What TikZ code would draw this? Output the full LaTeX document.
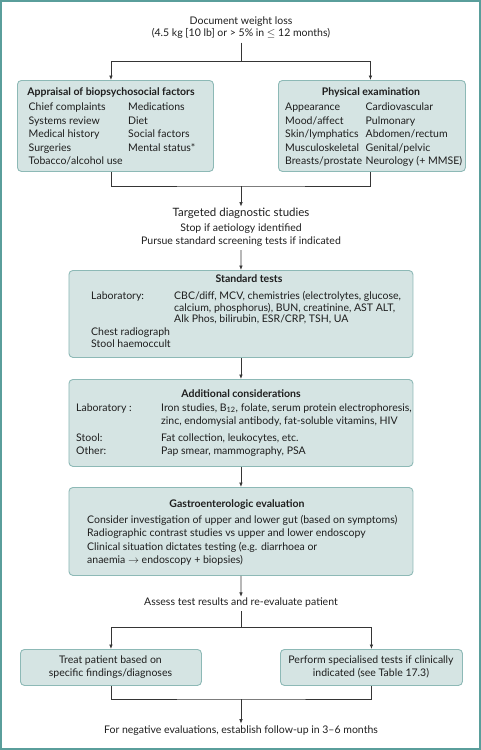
\documentclass[tikz,border=0pt]{standalone}
\usepackage{fontspec}
\setmainfont{Lato}
\usetikzlibrary{arrows.meta,calc}
\definecolor{boxfill}{HTML}{D5E4E3}
\definecolor{boxline}{HTML}{8DB9B6}
\definecolor{frame}{HTML}{5A9E9B}
\definecolor{ink}{HTML}{1E1E1E}
\newcommand\fsn{\fontsize{10.5}{12.5}\selectfont}
\newcommand\fsb{\fontsize{11.5}{13}\selectfont}
\begin{document}
\begin{tikzpicture}[x=1pt,y=-1pt,
  box/.style={draw=boxline,fill=boxfill,rounded corners=4pt,line width=0.9pt,inner sep=0,anchor=north west},
  tl/.style={anchor=base west,inner sep=0,text=ink,font=\fsn},
  tc/.style={anchor=base,inner sep=0,text=ink,font=\fsn},
  th/.style={anchor=base,inner sep=0,text=ink,font=\fsn\bfseries},
  free/.style={inner sep=0,text=ink,font=\fsn,align=center},
  conn/.style={draw=ink!90,line width=0.7pt},
  arr/.style={conn,-{Latex[length=4.5pt,width=3.6pt]}}]
\useasboundingbox (0,0) rectangle (481,750);
\draw[frame,line width=2pt] (1,1) rectangle (480,749);

% title
\node[free,anchor=north,outer sep=4pt] (title) at (241,12.5) {Document weight loss\\(4.5 kg [10 lb] or > 5\% in $\le$ 12 months)};
\coordinate (j1) at (241,61);

% top boxes
\node[box,minimum width=196pt,minimum height=91pt] (lbox) at (17,80) {};
\node[box,minimum width=187pt,minimum height=91pt] (rbox) at (278,80) {};
\node[th] (lboxh) at (111,95) {Appraisal of biopsychosocial factors};
\foreach \t/\y in {Chief complaints/110,Systems review/124,Medical history/137,Surgeries/151,Tobacco\slash alcohol use/164.5}
  \node[tl] at (28.5,\y) {\t};
\foreach \t/\y in {Medications/110,Diet/124,Social factors/137,Mental status*/151}
  \node[tl] at (128,\y) {\t};
\node[th] (rboxh) at (371,95) {Physical examination};
\foreach \t/\y in {Appearance/110,Mood\slash affect/124,Skin\slash lymphatics/137,Musculoskeletal/151,Breasts\slash prostate/164.5}
  \node[tl] at (285,\y) {\t};
\foreach \t/\y in {Cardiovascular/110,Pulmonary/124,Abdomen\slash rectum/137,Genital\slash pelvic/151,Neurology (+ MMSE)/164.5}
  \node[tl] at (365.5,\y) {\t};

\draw[conn] (title.south) -- (j1);
\draw[arr] (j1) -| ($(lbox.north)+(-4.5,0)$);
\draw[arr] (j1) -| ($(rbox.north)+(-1.5,0)$);

% targeted
\coordinate (j2) at (241,186);
\node[tc,font=\fsb,outer sep=0pt] (targ) at (241,216) {Targeted diagnostic studies};
\node[free,anchor=north,outer sep=4pt] (stop) at (241,220) {Stop if aetiology identified\\Pursue standard screening tests if indicated};
\draw[conn] ($(lbox.south)+(-4.5,0)$) |- (j2) -| ($(rbox.south)+(-1.5,0)$);
\draw[arr] (j2) -- ($(targ.north)+(0,-1)$);

% standard tests
\node[box,minimum width=344pt,minimum height=87pt] (std) at (68.5,270) {};
\node[th] at (249,282.5) {Standard tests};
\node[tl] at (91,299.5) {Laboratory:};
\foreach \t/\y in {{CBC/diff, MCV, chemistries (electrolytes, glucose,}/299.5,{calcium, phosphorus), BUN, creatinine, AST ALT,}/311,{Alk Phos, bilirubin, ESR/CRP, TSH, UA}/322.5}
  \node[tl] at (174,\y) {\t};
\node[tl] at (91,335.5) {Chest radiograph};
\node[tl] at (91,347.5) {Stool haemoccult};
\draw[arr] (stop.south) -- (std.north);

% additional
\node[box,minimum width=344pt,minimum height=87pt] (add) at (68.5,379) {};
\node[th] at (241,397) {Additional considerations};
\node[tl] at (76,411) {Laboratory :};
\node[tl] at (161,411) {Iron studies, B\textsubscript{12}, folate, serum protein electrophoresis,};
\node[tl] at (161,424.5) {zinc, endomysial antibody, fat-soluble vitamins, HIV};
\node[tl] at (76,441) {Stool:};
\node[tl] at (161,441) {Fat collection, leukocytes, etc.};
\node[tl] at (76,454.5) {Other:};
\node[tl] at (161,454.5) {Pap smear, mammography, PSA};
\draw[arr] (std.south) -- (add.north);

% gastro
\node[box,minimum width=344pt,minimum height=88pt] (gas) at (68.5,487) {};
\node[th] at (237,507.5) {Gastroenterologic evaluation};
\foreach \t/\y in {Consider investigation of upper and lower gut (based on symptoms)/523.5,Radiographic contrast studies vs upper and lower endoscopy/536.5,Clinical situation dictates testing (e.g. diarrhoea or/550.5,anaemia $\rightarrow$ endoscopy + biopsies)/563.5}
  \node[tl] at (87,\y) {\t};
\draw[arr] (add.south) -- (gas.north);

% assess
\node[free,anchor=base,outer sep=4pt] (assess) at (241,605.5) {Assess test results and re-evaluate patient};
\draw[arr] (gas.south) -- ($(assess.north)+(0,3)$);
\coordinate (j3) at (241,627);

% bottom boxes
\node[box,minimum width=181pt,minimum height=36pt] (treat) at (20,649) {};
\node[box,minimum width=182pt,minimum height=36pt] (spec) at (280,649) {};
\node[tc] at (110.5,663.5) {Treat patient based on};
\node[tc] at (110.5,676.5) {specific findings/diagnoses};
\node[tc] at (371,663.5) {Perform specialised tests if clinically};
\node[tc] at (371,676.5) {indicated (see Table 17.3)};
\draw[conn] (assess.south) -- (j3);
\draw[arr] (j3) -| (treat.north);
\draw[arr] (j3) -| (spec.north);

% final
\coordinate (j4) at (241,699);
\node[free,anchor=base] (final) at (241,733.5) {For negative evaluations, establish follow-up in 3--6 months};
\draw[conn] (treat.south) |- (j4) -| (spec.south);
\draw[arr] (j4) -- ($(final.north)+(0,-2)$);
\end{tikzpicture}
\end{document}
